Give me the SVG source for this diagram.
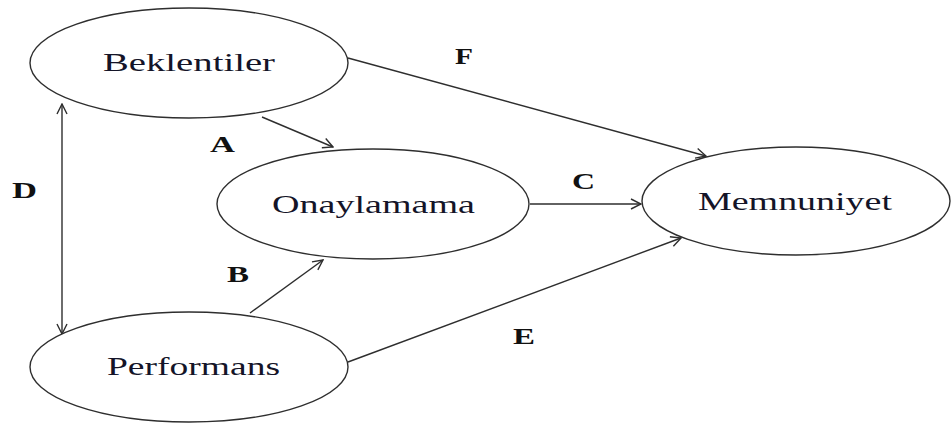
<svg xmlns="http://www.w3.org/2000/svg" width="952" height="424" viewBox="0 0 952 424">
  <style>
    .node ellipse { fill: #ffffff; stroke: #2e2e2e; stroke-width: 1.4; }
    .node text { font-family: "Liberation Serif", "Times New Roman", serif; font-size: 25px; fill: #141428; text-anchor: start; }
    .edges line { stroke: #2e2e2e; stroke-width: 1.4; fill: none; marker-end: url(#arrow); }
    .lbl { font-family: "Liberation Serif", "Times New Roman", serif; font-size: 23px; font-weight: bold; fill: #111111; }
  </style>
  <defs>
    <marker id="arrow" viewBox="0 0 12 12" refX="11" refY="6" markerWidth="12" markerHeight="12" markerUnits="userSpaceOnUse" orient="auto-start-reverse">
      <path d="M1,1 L11,6 L1,11" fill="none" stroke="#2e2e2e" stroke-width="1.4"/>
    </marker>
  </defs>
  <rect width="952" height="424" fill="#ffffff"/>

  <g class="edges">
    <line x1="62" y1="104" x2="62" y2="334" marker-start="url(#arrow)"/>
    <line x1="262" y1="117" x2="333" y2="147"/>
    <line x1="250" y1="313" x2="323" y2="260"/>
    <line x1="530" y1="204" x2="641" y2="204"/>
    <line x1="348" y1="58" x2="706" y2="156"/>
    <line x1="348" y1="362" x2="681" y2="238"/>
  </g>

  <g id="beklentiler" class="node">
    <ellipse cx="189" cy="63" rx="159" ry="55"/>
    <text x="103" y="71" textLength="172" lengthAdjust="spacingAndGlyphs">Beklentiler</text>
  </g>
  <g id="onaylamama" class="node">
    <ellipse cx="373" cy="204" rx="156" ry="55"/>
    <text x="272" y="213" textLength="203" lengthAdjust="spacingAndGlyphs">Onaylamama</text>
  </g>
  <g id="memnuniyet" class="node">
    <ellipse cx="796" cy="201" rx="154" ry="54"/>
    <text x="698" y="210" textLength="194" lengthAdjust="spacingAndGlyphs">Memnuniyet</text>
  </g>
  <g id="performans" class="node">
    <ellipse cx="189" cy="367" rx="159" ry="55"/>
    <text x="107" y="375" textLength="173" lengthAdjust="spacingAndGlyphs">Performans</text>
  </g>

  <g id="edge-labels">
    <text class="lbl" x="455" y="64" textLength="18" lengthAdjust="spacingAndGlyphs">F</text>
    <text class="lbl" x="210" y="152" textLength="25" lengthAdjust="spacingAndGlyphs">A</text>
    <text class="lbl" x="12" y="198" textLength="25" lengthAdjust="spacingAndGlyphs">D</text>
    <text class="lbl" x="227" y="282" textLength="22" lengthAdjust="spacingAndGlyphs">B</text>
    <text class="lbl" x="572" y="189" textLength="23" lengthAdjust="spacingAndGlyphs">C</text>
    <text class="lbl" x="513" y="344" textLength="22" lengthAdjust="spacingAndGlyphs">E</text>
  </g>
</svg>
